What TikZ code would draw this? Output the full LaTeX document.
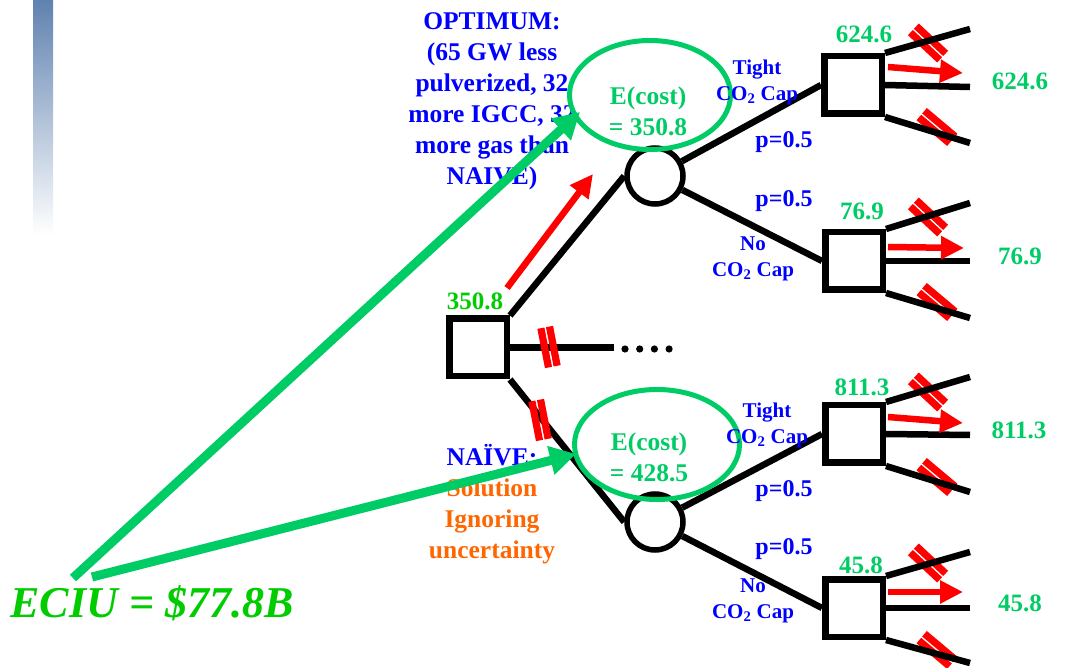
\documentclass[tikz,border=0pt]{standalone}
\usepackage{fontspec}
\setmainfont{Liberation Serif}
\usetikzlibrary{arrows.meta,shapes.geometric}
\definecolor{eg}{RGB}{0,204,102}
\definecolor{lg}{RGB}{0,204,0}
\definecolor{bl}{RGB}{0,0,255}
\definecolor{og}{RGB}{255,102,0}
\definecolor{barblue}{RGB}{96,130,176}
\begin{document}
\begin{tikzpicture}[x=1pt,y=-1pt,
  dec/.style={draw, line width=6.5pt, minimum size=57.5pt, inner sep=0pt, fill=white},
  chance/.style={draw, circle, line width=5.5pt, minimum size=56pt, inner sep=0pt, fill=white},
  branch/.style={line width=6.5pt},
  redarr/.style={red, line width=6.5pt, -{Triangle[length=23pt,width=22pt]}},
  grarr/.style={eg, line width=9pt, -{Triangle[length=26pt,width=28pt]}},
  lab/.style={font=\bfseries\fontsize{25.5}{31}\selectfont, align=center, inner sep=0pt},
  sm/.style={font=\bfseries\fontsize{21}{26}\selectfont, align=center, inner sep=0pt, text=bl},
  num/.style={font=\bfseries\fontsize{25}{31}\selectfont, inner sep=0pt, text=eg},
  prob/.style={font=\bfseries\fontsize{24}{30}\selectfont, inner sep=0pt, text=bl},
  hashmark/.pic={\fill[red] (-8,-20) rectangle (-0.8,20); \fill[red] (0.8,-20) rectangle (8,20);}
]
\useasboundingbox (0,0) rectangle (1088,668);
% side gradient bar
\shade[top color=barblue, bottom color=white] (33,0) rectangle (53,235);

% annotation texts
\node[lab, text=bl] (opt) at (492,101) {OPTIMUM:\\(65 GW less\\pulverized, 32\\more IGCC, 32\\more gas than\\NAIVE)};
\node[lab] (naive) at (492,504) {\textcolor{bl}{NAÏVE:}\\\textcolor{og}{Solution}\\\textcolor{og}{Ignoring}\\\textcolor{og}{uncertainty}};

% white interiors of the expectation ellipses
\fill[white] (650,95) ellipse [x radius=80.5pt, y radius=54.5pt];
\fill[white] (657,444.5) ellipse [x radius=82.5pt, y radius=55pt];

% red cut marks lying under the second-stage branches
\foreach \y in {43,217,392,563} \pic[rotate=47] at (928,\y) {hashmark};
\foreach \y in {127,302,477,650} \pic[rotate=50] at (937,\y) {hashmark};

% tree nodes
\node[dec] (d0) at (478,347.5) {};
\node[chance] (c1) at (655,176) {};
\node[chance] (c2) at (655,522) {};
\node[dec] (d1) at (853,85) {};
\node[dec] (d2) at (854,261) {};
\node[dec] (d3) at (854,434) {};
\node[dec] (d4) at (854,608) {};
\coordinate (more) at (614,347.5);

% first-stage branches
\draw[branch] (d0.north east) -- (c1.west);
\draw[branch] (d0.east) -- (more);
\draw[branch] (d0.south east) -- (c2.west);
\foreach \x in {625,639.7,654.4,669.1} \fill (\x,349) circle [radius=3.6pt];

% chance branches
\draw[branch] (c1) -- (d1.west);
\draw[branch] (c1) -- (d2.west);
\draw[branch] (c2) -- (d3.west);
\draw[branch] (c2) -- (d4.west);

% second-stage branches
\coordinate (d1t) at (970,29);  \coordinate (d1m) at (970,87);  \coordinate (d1b) at (970,143);
\coordinate (d2t) at (970,203); \coordinate (d2m) at (970,261); \coordinate (d2b) at (970,318);
\coordinate (d3t) at (970,377); \coordinate (d3m) at (970,435); \coordinate (d3b) at (970,492);
\coordinate (d4t) at (970,552); \coordinate (d4m) at (970,608); \coordinate (d4b) at (970,663);
\foreach \d in {d1,d2,d3,d4}{
  \draw[branch] (\d.north east) -- (\d t);
  \draw[branch] (\d.east) -- (\d m);
  \draw[branch] (\d.south east) -- (\d b);
}

% red cut marks over the first-stage branches
\pic[rotate=11] at (549,347) {hashmark};
\pic[rotate=11] at (540,420) {hashmark};

% red choice arrows
\coordinate (ra0) at (507,288); \coordinate (rb0) at (593,174);
\draw[redarr] (ra0) -- (rb0);
\coordinate (ra1) at (888,67);  \coordinate (rb1) at (963,73);
\coordinate (ra2) at (888,247); \coordinate (rb2) at (964,248);
\coordinate (ra3) at (888,417); \coordinate (rb3) at (963,423);
\coordinate (ra4) at (888,592); \coordinate (rb4) at (963,592);
\foreach \i in {1,2,3,4} \draw[redarr] (ra\i) -- (rb\i);

% expectation ellipses
\node[draw=eg, line width=5pt, ellipse, minimum width=161pt, minimum height=109pt] (e1) at (650,95) {};
\node[draw=eg, line width=5pt, ellipse, minimum width=165pt, minimum height=110pt] (e2) at (657,444.5) {};
\node[lab, text=eg] (e1t) at (648,111) {E(cost)\\= 350.8};
\node[lab, text=eg] (e2t) at (649,457) {E(cost)\\= 428.5};

% branch labels
\node[sm] (t1) at (757,82) {Tight\\CO\textsubscript{2} Cap};
\node[sm] (n1) at (753,259) {No\\CO\textsubscript{2} Cap};
\node[sm] (t2) at (767,425) {Tight\\CO\textsubscript{2} Cap};
\node[sm] (n2) at (753,601) {No\\CO\textsubscript{2} Cap};
\node[prob] (p1) at (784,142) {p=0.5};
\node[prob] (p2) at (784,201) {p=0.5};
\node[prob] (p3) at (784,491) {p=0.5};
\node[prob] (p4) at (784,549) {p=0.5};

% values
\node[num, text=lg] (v0) at (475,301) {350.8};
\node[num] (v1) at (864,34) {624.6};
\node[num] (v2) at (862,211) {76.9};
\node[num] (v3) at (862,387) {811.3};
\node[num] (v4) at (861,565) {45.8};
\node[num] (r1) at (1020,81) {624.6};
\node[num] (r2) at (1020,256) {76.9};
\node[num] (r3) at (1019,430) {811.3};
\node[num] (r4) at (1020,603) {45.8};

% ECIU
\node[font=\bfseries\itshape\fontsize{44}{50}\selectfont, text=lg, inner sep=0pt] (eciu) at (152,603) {ECIU = \$77.8B};
\coordinate (g1s) at (73,578);  \coordinate (g1e) at (580,112);
\coordinate (g2s) at (92,577);  \coordinate (g2e) at (576,454);
\draw[grarr] (g1s) -- (g1e);
\draw[grarr] (g2s) -- (g2e);
\end{tikzpicture}
\end{document}
